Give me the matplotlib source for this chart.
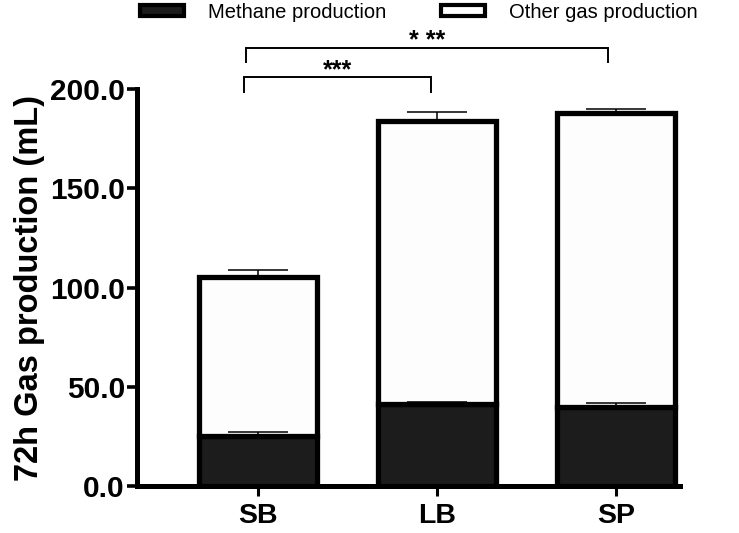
import matplotlib
matplotlib.use("Agg")
import matplotlib.pyplot as plt
from matplotlib.patches import Patch
import numpy as np

categories = ["SB", "LB", "SP"]
methane = [25.0, 41.5, 40.0]
methane_err = [2.0, 1.0, 1.8]
other_gas = [80.6, 142.5, 148.0]
total_err = [3.3, 4.4, 2.0]
yticks = [0, 50, 100, 150, 200]
ytick_labels = ["0.0", "50.0", "100.0", "150.0", "200.0"]
legend_labels = ["Methane production", "Other gas production"]
# significance brackets: (x_left, x_right, y_line, y_tick_bottom, label)
brackets = [(-0.078, 0.967, 206.0, 198.8, "***"),
            (-0.07, 1.957, 221.0, 213.6, "* **")]

plt.rcParams['font.family'] = ['Liberation Sans', 'DejaVu Sans']

fig = plt.figure(figsize=(7.39, 5.33), dpi=100)
ax = fig.add_axes([0.186, 0.0882, 0.734, 0.7443])

x = np.arange(len(categories))
w = 0.66
lw = 3.8
total = [m + o for m, o in zip(methane, other_gas)]
cap = 21.5

ax.errorbar(x, methane, yerr=[[0]*3, methane_err], fmt='none', ecolor='black',
            elinewidth=1.1, capsize=cap, capthick=1.1, zorder=4)
ax.bar(x, methane, width=w, color='#1c1c1c', edgecolor='black', linewidth=lw, zorder=3)
ax.errorbar(x, total, yerr=[[0]*3, total_err], fmt='none', ecolor='black',
            elinewidth=1.1, capsize=cap, capthick=1.1, zorder=2)
ax.bar(x, other_gas, bottom=methane, width=w, color='#fdfdfd', edgecolor='black',
       linewidth=lw, zorder=3)

ax.set_xlim(-0.675, 2.357)
ax.set_ylim(0, 200)
ax.set_xticks(x)
ax.set_xticklabels(categories, fontsize=20.5, fontweight='bold')
ax.set_yticks(yticks)
ax.set_yticklabels(ytick_labels, fontsize=21.5, fontweight='bold')
ax.set_ylabel("72h Gas production (mL)", fontsize=23.5, fontweight='bold', labelpad=4)

for s in ['top', 'right']:
    ax.spines[s].set_visible(False)
for s in ['left', 'bottom']:
    ax.spines[s].set_linewidth(3.6)
ax.tick_params(axis='y', width=2.6, length=7, pad=2)
ax.tick_params(axis='x', width=2.2, length=7, pad=5)

for xl, xr, yl, yb, lab in brackets:
    ax.plot([xl, xl, xr, xr], [yb, yl, yl, yb], color='black', lw=1.4,
            clip_on=False, solid_joinstyle='miter')
    ax.text((xl + xr) / 2, yl - 2.5, lab, ha='center', va='bottom',
            fontsize=18, fontweight='bold', clip_on=False)

handles = [Patch(facecolor='#1c1c1c', edgecolor='black', linewidth=3),
           Patch(facecolor='#fdfdfd', edgecolor='black', linewidth=3)]
fig.legend(handles, legend_labels, loc='center', bbox_to_anchor=(0.567, 0.977),
           ncol=2, frameon=False, fontsize=14.5, handlelength=2.2,
           handleheight=0.5, handletextpad=1.2, columnspacing=2.7)

fig.savefig("out.png", dpi=100)
